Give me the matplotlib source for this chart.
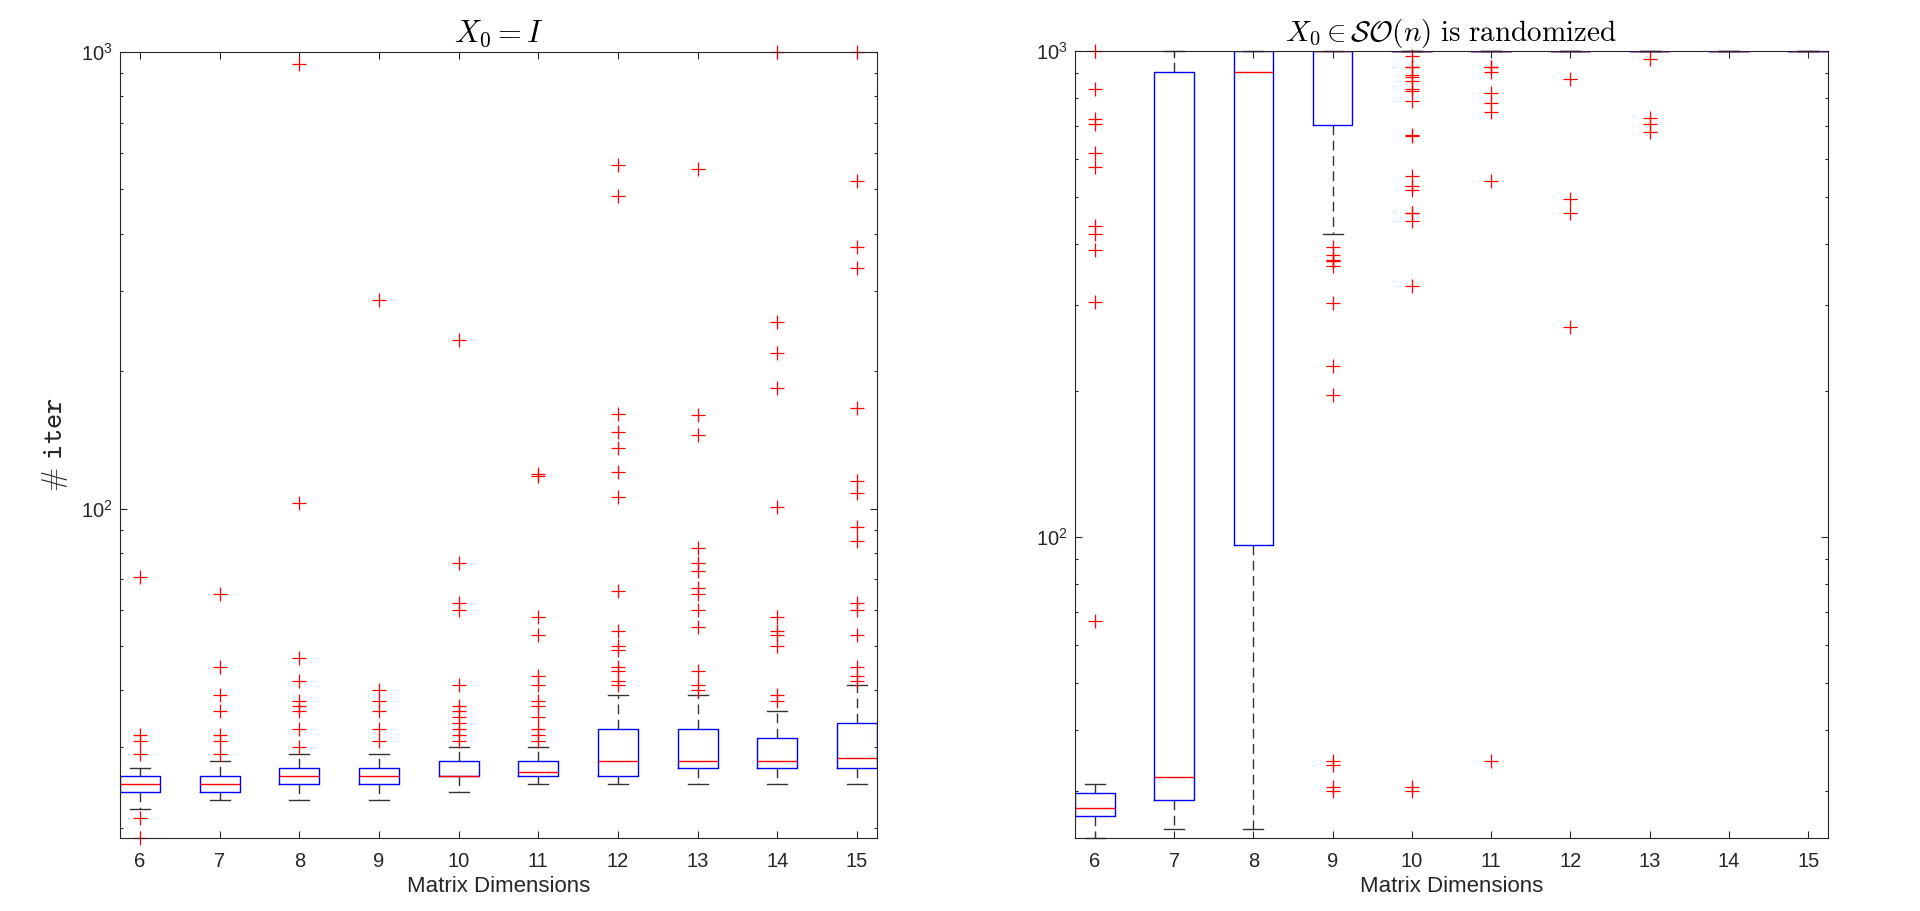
import matplotlib
matplotlib.use("Agg")
import matplotlib.pyplot as plt
from matplotlib.ticker import NullFormatter, LogLocator

plt.rcParams['font.family'] = ['Liberation Sans', 'DejaVu Sans']
plt.rcParams['mathtext.fontset'] = 'cm'

dims = [6, 7, 8, 9, 10, 11, 12, 13, 14, 15]

# X0 = I  (left panel)
left_q1 = [24, 24, 25, 25, 26, 26, 26, 27, 27, 27]
left_med = [25, 25, 26, 26, 26, 26.5, 28, 28, 28, 28.5]
left_q3 = [26, 26, 27, 27, 28, 28, 33, 33, 31.5, 34]
left_lo = [22, 23, 23, 23, 24, 25, 25, 25, 25, 25]
left_hi = [27, 28, 29, 29, 30, 30, 39, 39, 36, 41]
left_fliers = [
    [19, 21, 29, 31, 32, 71],
    [29, 31, 32, 36, 39, 45, 65],
    [30, 33, 36, 37, 38, 42, 47, 103, 943],
    [31, 33, 36, 38, 40, 286],
    [31, 32, 33, 34, 35, 36, 37, 41, 60, 62, 76, 234],
    [31, 32, 33, 35, 37, 38, 41, 43, 53, 58, 118, 119],
    [41, 42, 44, 45, 49, 50, 54, 66, 106, 120, 136, 147, 161, 485, 565],
    [40, 41, 44, 55, 60, 65, 67, 73, 76, 82, 145, 160, 554],
    [38, 39, 50, 53, 54, 58, 101, 184, 219, 256, 1000],
    [42, 43, 45, 53, 60, 62, 85, 91, 108, 115, 166, 337, 375, 522, 1000],
]

# X0 in SO(n) randomized  (right panel)
right_q1 = [26.7, 28.7, 96, 705, 1000, 1000, 1000, 1000, 1000, 1000]
right_med = [27.7, 32, 906, 1000, 1000, 1000, 1000, 1000, 1000, 1000]
right_q3 = [29.7, 904, 1000, 1000, 1000, 1000, 1000, 1000, 1000, 1000]
right_lo = [24, 25, 25, 421, 1000, 1000, 1000, 1000, 1000, 1000]
right_hi = [31, 1000, 1000, 1000, 1000, 1000, 1000, 1000, 1000, 1000]
right_fliers = [
    [67, 304, 390, 420, 437, 578, 617, 707, 723, 834, 1000],
    [],
    [],
    [30, 30.6, 34, 34.5, 196, 225, 303, 361, 369, 370, 371, 381, 395],
    [30, 30.6, 329, 446, 464, 464, 517, 527, 552, 667, 673, 788, 826, 834,
     866, 885, 894, 928, 928, 977],
    [34.6, 541, 749, 780, 818, 905, 926, 926],
    [271, 463, 495, 877],
    [680, 709, 727, 964],
    [],
    [],
]

dark = '#262626'


def make_stats(q1, med, q3, lo, hi, fliers):
    return [dict(q1=a, med=b, q3=c, whislo=d, whishi=e, fliers=f)
            for a, b, c, d, e, f in zip(q1, med, q3, lo, hi, fliers)]


def draw_box(ax, stats, ylim):
    ax.set_yscale('log')
    ax.bxp(stats, positions=dims, widths=0.5, capwidths=0.25,
           boxprops=dict(color='blue', lw=1.0),
           medianprops=dict(color='red', lw=1.0),
           whiskerprops=dict(color='#333333', lw=1.0, ls=(0, (7, 4))),
           capprops=dict(color='#333333', lw=1.0, clip_on=False),
           flierprops=dict(marker='+', markeredgecolor='red', markersize=10,
                           markeredgewidth=0.9, linestyle='none', clip_on=False),
           manage_ticks=False)
    ax.set_xlim(5.75, 15.25)
    ax.set_ylim(*ylim)
    ax.set_xticks(dims)
    ax.set_xticklabels([str(d) for d in dims])
    ax.yaxis.set_major_locator(LogLocator(base=10))
    ax.yaxis.set_minor_locator(LogLocator(base=10, subs=range(2, 10)))
    ax.yaxis.set_minor_formatter(NullFormatter())
    ax.tick_params(which='both', direction='in', top=True, right=True,
                   colors=dark, labelsize=14.5, width=0.8)
    ax.tick_params(which='major', length=4.8)
    ax.tick_params(which='minor', length=2.2)
    ax.tick_params(axis='x', pad=10)
    ax.tick_params(axis='y', pad=5)
    for s in ax.spines.values():
        s.set_color(dark)
        s.set_linewidth(0.8)
    ax.set_xlabel('Matrix Dimensions', fontsize=16, color=dark, labelpad=4)


fig = plt.figure(figsize=(19.2, 9.11), dpi=100)
ax1 = fig.add_axes([120 / 1920, 73 / 911, 757 / 1920, 786 / 911])
ax2 = fig.add_axes([1075 / 1920, 73 / 911, 753 / 1920, 787 / 911])

draw_box(ax1, make_stats(left_q1, left_med, left_q3, left_lo, left_hi, left_fliers), (19, 1000))
draw_box(ax2, make_stats(right_q1, right_med, right_q3, right_lo, right_hi, right_fliers), (24, 1000))

ax1.set_title(r'$X_0 = I$', fontsize=22, pad=7)
ax2.set_title(r'$X_0 \in \mathcal{SO}(n)\ \mathrm{is\ randomized}$', fontsize=21, pad=7)
ax1.set_ylabel(r'$\mathtt{\#\ iter}$', fontsize=21, color=dark, labelpad=8)

fig.savefig('out.png', dpi=100)
